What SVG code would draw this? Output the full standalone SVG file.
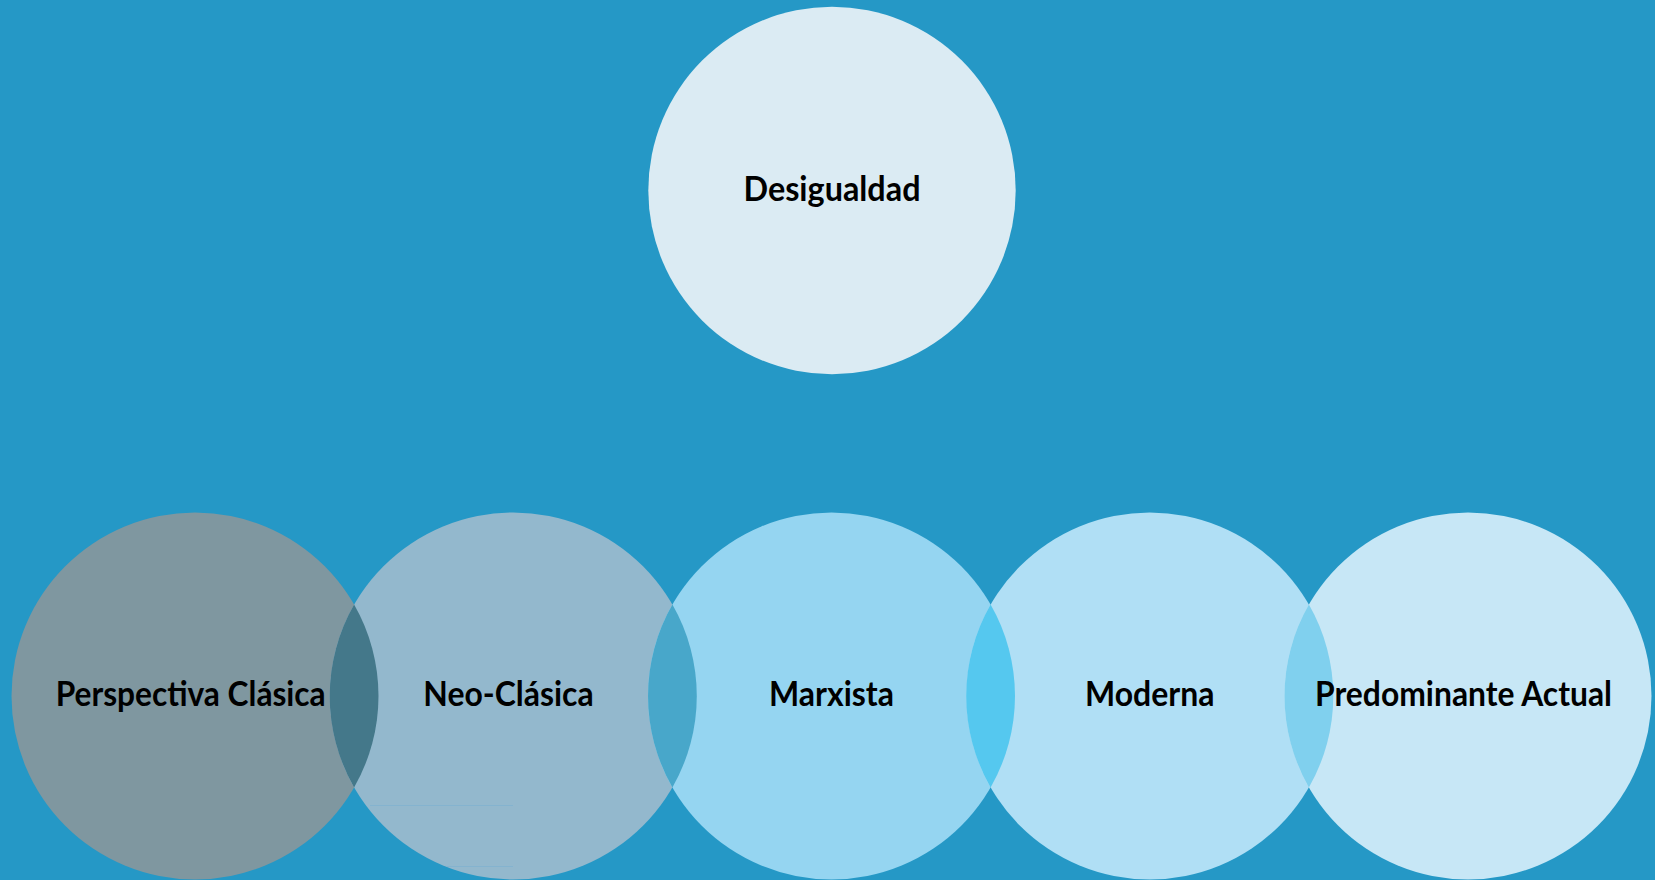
<svg xmlns="http://www.w3.org/2000/svg" width="1655" height="880" viewBox="0 0 1655 880">
<style>
.lbl{font-family:Lato,"Liberation Sans",sans-serif;font-weight:700;font-size:34px;fill:#000}
.lens{stroke:none}
.art{stroke:#84b3cf;stroke-width:1;fill:none}
</style>
<rect x="0" y="0" width="1655" height="880" fill="#2598c6"/>
<g id="node-desigualdad">
<circle cx="832" cy="190.5" r="183.7" fill="#dbebf3"/>
<text class="lbl" x="743.5" y="201" textLength="177" lengthAdjust="spacingAndGlyphs">Desigualdad</text>
</g>
<g id="node-clasica">
<circle cx="195" cy="696" r="183.5" fill="#7f97a0"/>
</g>
<g id="node-neoclasica">
<circle cx="513.25" cy="696" r="183.5" fill="#93b8cd"/>
<line class="art" x1="370" y1="805.5" x2="513" y2="805.5"/>
<line class="art" x1="447" y1="866.5" x2="513" y2="866.5"/>
</g>
<g id="node-marxista">
<circle cx="831.5" cy="696" r="183.5" fill="#95d5f1"/>
</g>
<g id="node-moderna">
<circle cx="1149.75" cy="696" r="183.5" fill="#b0dff5"/>
</g>
<g id="node-actual">
<circle cx="1468" cy="696" r="183.5" fill="#c7e7f6"/>
</g>
<g id="overlaps">
<path class="lens" fill="#44788a" d="M354.1,604.6 A183.5,183.5 0 0 0 354.1,787.4 A183.5,183.5 0 0 0 354.1,604.6 Z"/>
<path class="lens" fill="#48a7ca" d="M672.4,604.6 A183.5,183.5 0 0 0 672.4,787.4 A183.5,183.5 0 0 0 672.4,604.6 Z"/>
<path class="lens" fill="#55c8ef" d="M990.6,604.6 A183.5,183.5 0 0 0 990.6,787.4 A183.5,183.5 0 0 0 990.6,604.6 Z"/>
<path class="lens" fill="#80d0ee" d="M1308.9,604.6 A183.5,183.5 0 0 0 1308.9,787.4 A183.5,183.5 0 0 0 1308.9,604.6 Z"/>
</g>
<g id="labels">
<text class="lbl" x="55.7" y="706" textLength="270" lengthAdjust="spacingAndGlyphs">Perspectiva Clásica</text>
<text class="lbl" x="423.3" y="706" textLength="170.3" lengthAdjust="spacingAndGlyphs">Neo-Clásica</text>
<text class="lbl" x="769" y="706" textLength="125" lengthAdjust="spacingAndGlyphs">Marxista</text>
<text class="lbl" x="1085" y="706" textLength="129.5" lengthAdjust="spacingAndGlyphs">Moderna</text>
<text class="lbl" x="1315" y="706" textLength="297" lengthAdjust="spacingAndGlyphs">Predominante Actual</text>
</g>
<g id="connectors"/>
</svg>
